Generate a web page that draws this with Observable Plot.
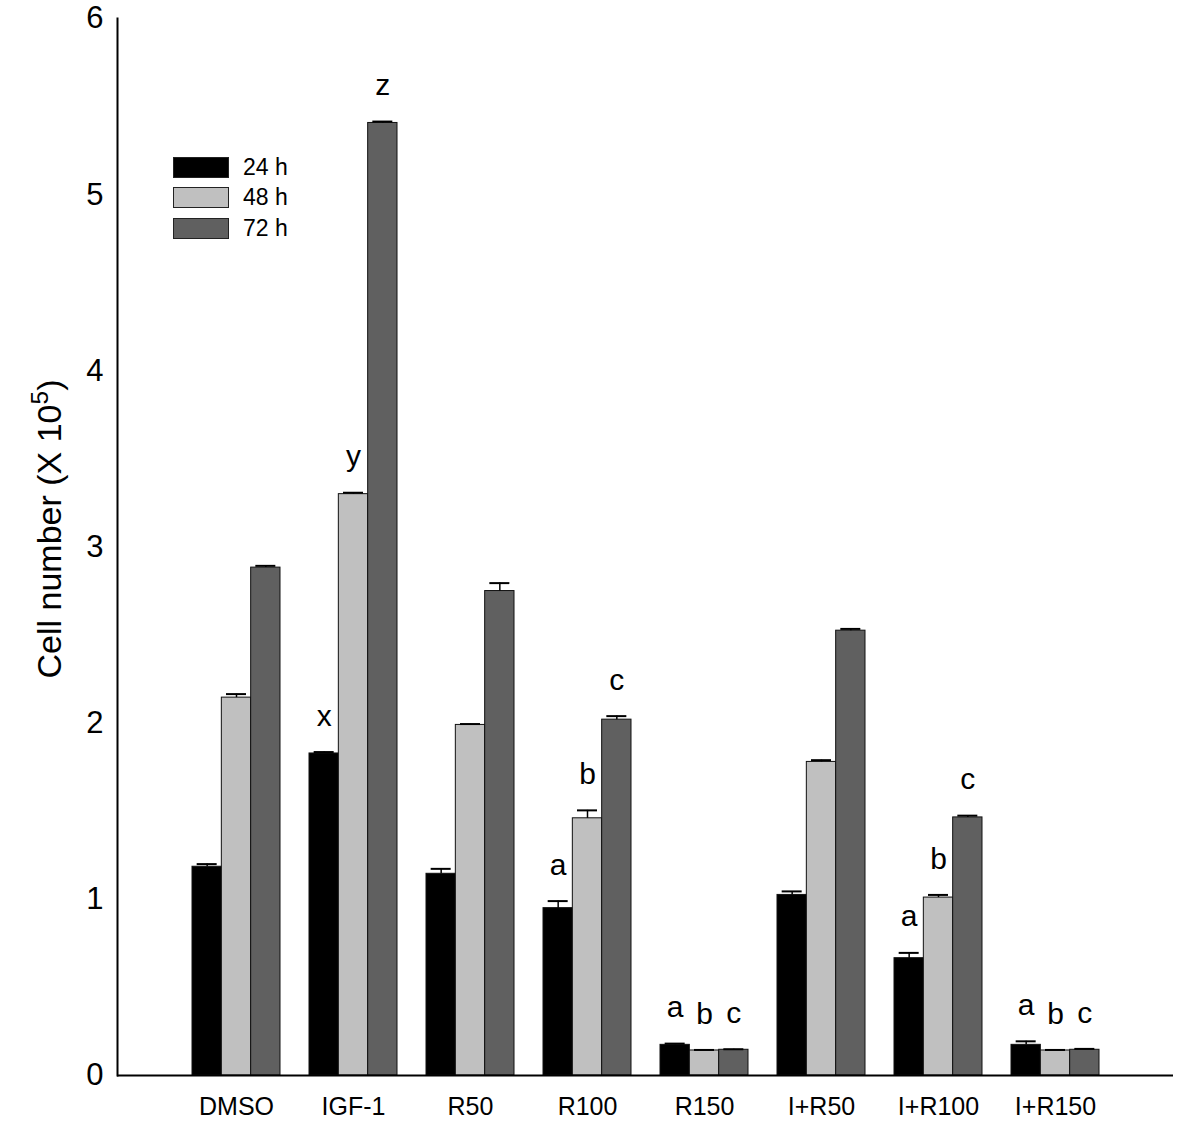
<!DOCTYPE html>
<html>
<head>
<meta charset="utf-8">
<script src="https://cdn.jsdelivr.net/npm/d3@7"></script>
<script src="https://cdn.jsdelivr.net/npm/@observablehq/plot@0.6"></script>
<style>
  body { margin: 0; background: #fff; font-family: "Liberation Sans", Arial, sans-serif; }
  #wrap { position: relative; width: 1200px; height: 1133px; }
  #legend { position: absolute; left: 173px; top: 152px; }
  .lg { display: flex; align-items: center; height: 30.5px; }
  .sw { width: 56px; height: 21px; border: 1px solid #222; box-sizing: border-box; margin-right: 14px; }
  .lt { font-size: 23px; color: #000; }
  #ytitle { position: absolute; left: 49px; top: 529px; transform: translate(-50%, -50%) rotate(-90deg); white-space: nowrap; font-size: 34px; color: #000; }
  #ytitle sup { font-size: 0.72em; vertical-align: super; line-height: 0; }
  g[aria-label="y-axis tick label"] { font-size: 31px; }
</style>
</head>
<body>
<div id="wrap"></div>
<script>
// ---- data ----
const categories = ["DMSO", "IGF-1", "R50", "R100", "R150", "I+R50", "I+R100", "I+R150"];
const seriesNames = ["24 h", "48 h", "72 h"];
const values24 = [1.185, 1.828, 1.145, 0.950, 0.174, 1.025, 0.666, 0.174];
const values48 = [2.145, 3.300, 1.990, 1.460, 0.142, 1.780, 1.010, 0.142];
const values72 = [2.883, 5.407, 2.750, 2.020, 0.146, 2.525, 1.465, 0.146];
const err24 = [0.015, 0.008, 0.028, 0.040, 0.007, 0.020, 0.030, 0.020];
const err48 = [0.020, 0.008, 0.005, 0.045, 0.003, 0.010, 0.015, 0.003];
const err72 = [0.010, 0.008, 0.045, 0.020, 0.003, 0.010, 0.010, 0.005];
const letters24 = ["", "x", "", "a", "a", "", "a", "a"];
const letters48 = ["", "y", "", "b", "b", "", "b", "b"];
const letters72 = ["", "z", "", "c", "c", "", "c", "c"];
const yTicks = [0, 1, 2, 3, 4, 5, 6];
const fills = ["#000000", "#c0c0c0", "#606060"];

// ---- table built from the arrays ----
const valueSets = [values24, values48, values72];
const errSets = [err24, err48, err72];
const letterSets = [letters24, letters48, letters72];
const rows = [];
seriesNames.forEach((s, si) => {
  categories.forEach((c, ci) => {
    rows.push({cat: c, series: s, si, value: valueSets[si][ci], err: errSets[si][ci], letter: letterSets[si][ci]});
  });
});

// ---- layout ----
const W = 1200, H = 1133;
const mL = 117, mR = 27, mT = 18, mB = 58;
const pInner = 0.25, pOuter = 0.625;
const step = (W - mL - mR) / (categories.length - pInner + 2 * pOuter);
const band = step * (1 - pInner);
const bw = band / 3;
const capW = 20;

const marks = [];
seriesNames.forEach((s, si) => {
  const data = rows.filter(d => d.si === si);
  const off = (si - 1) * bw;
  marks.push(Plot.barY(data, {
    x: "cat", y: "value", fill: fills[si], stroke: "#111", strokeWidth: 1,
    insetLeft: (band - bw) / 2, insetRight: (band - bw) / 2, dx: off
  }));
  marks.push(Plot.ruleX(data, {
    x: "cat", y1: "value", y2: d => d.value + d.err, stroke: "#000", strokeWidth: 1.5, dx: off
  }));
  marks.push(Plot.tickY(data, {
    x: "cat", y: d => d.value + d.err, stroke: "#000", strokeWidth: 2,
    insetLeft: (band - capW) / 2, insetRight: (band - capW) / 2, dx: off
  }));
  marks.push(Plot.text(data.filter(d => d.letter), {
    x: "cat", y: d => d.value + d.err, text: "letter", dx: off, dy: -36,
    fontSize: 30, fill: "#000"
  }));
});

const chart = Plot.plot({
  width: W, height: H,
  marginLeft: mL, marginRight: mR, marginTop: mT, marginBottom: mB,
  style: {fontFamily: "'Liberation Sans', Arial, sans-serif", background: "#fff", color: "#000"},
  x: {domain: categories, paddingInner: pInner, paddingOuter: pOuter, label: null},
  y: {domain: [0, 6], label: null},
  marks: [
    ...marks,
    Plot.axisY({ticks: yTicks, tickSize: 0, tickPadding: 14, fontSize: 31, label: null, tickFormat: d3.format("d")}),
    Plot.axisX({tickSize: 0, tickPadding: 22, fontSize: 25, label: null}),
    Plot.ruleY([0], {stroke: "#000", strokeWidth: 2}),
    Plot.frame({anchor: "left", stroke: "#000", strokeWidth: 2})
  ]
});

const wrap = document.getElementById("wrap");
wrap.appendChild(chart);

// legend
const legend = document.createElement("div");
legend.id = "legend";
seriesNames.forEach((s, i) => {
  const row = document.createElement("div");
  row.className = "lg";
  const sw = document.createElement("div");
  sw.className = "sw";
  sw.style.background = fills[i];
  const t = document.createElement("span");
  t.className = "lt";
  t.textContent = s;
  row.appendChild(sw); row.appendChild(t);
  legend.appendChild(row);
});
wrap.appendChild(legend);

// y-axis title
const yt = document.createElement("div");
yt.id = "ytitle";
yt.innerHTML = "Cell number (X 10<sup>5</sup>)";
wrap.appendChild(yt);
</script>
</body>
</html>
